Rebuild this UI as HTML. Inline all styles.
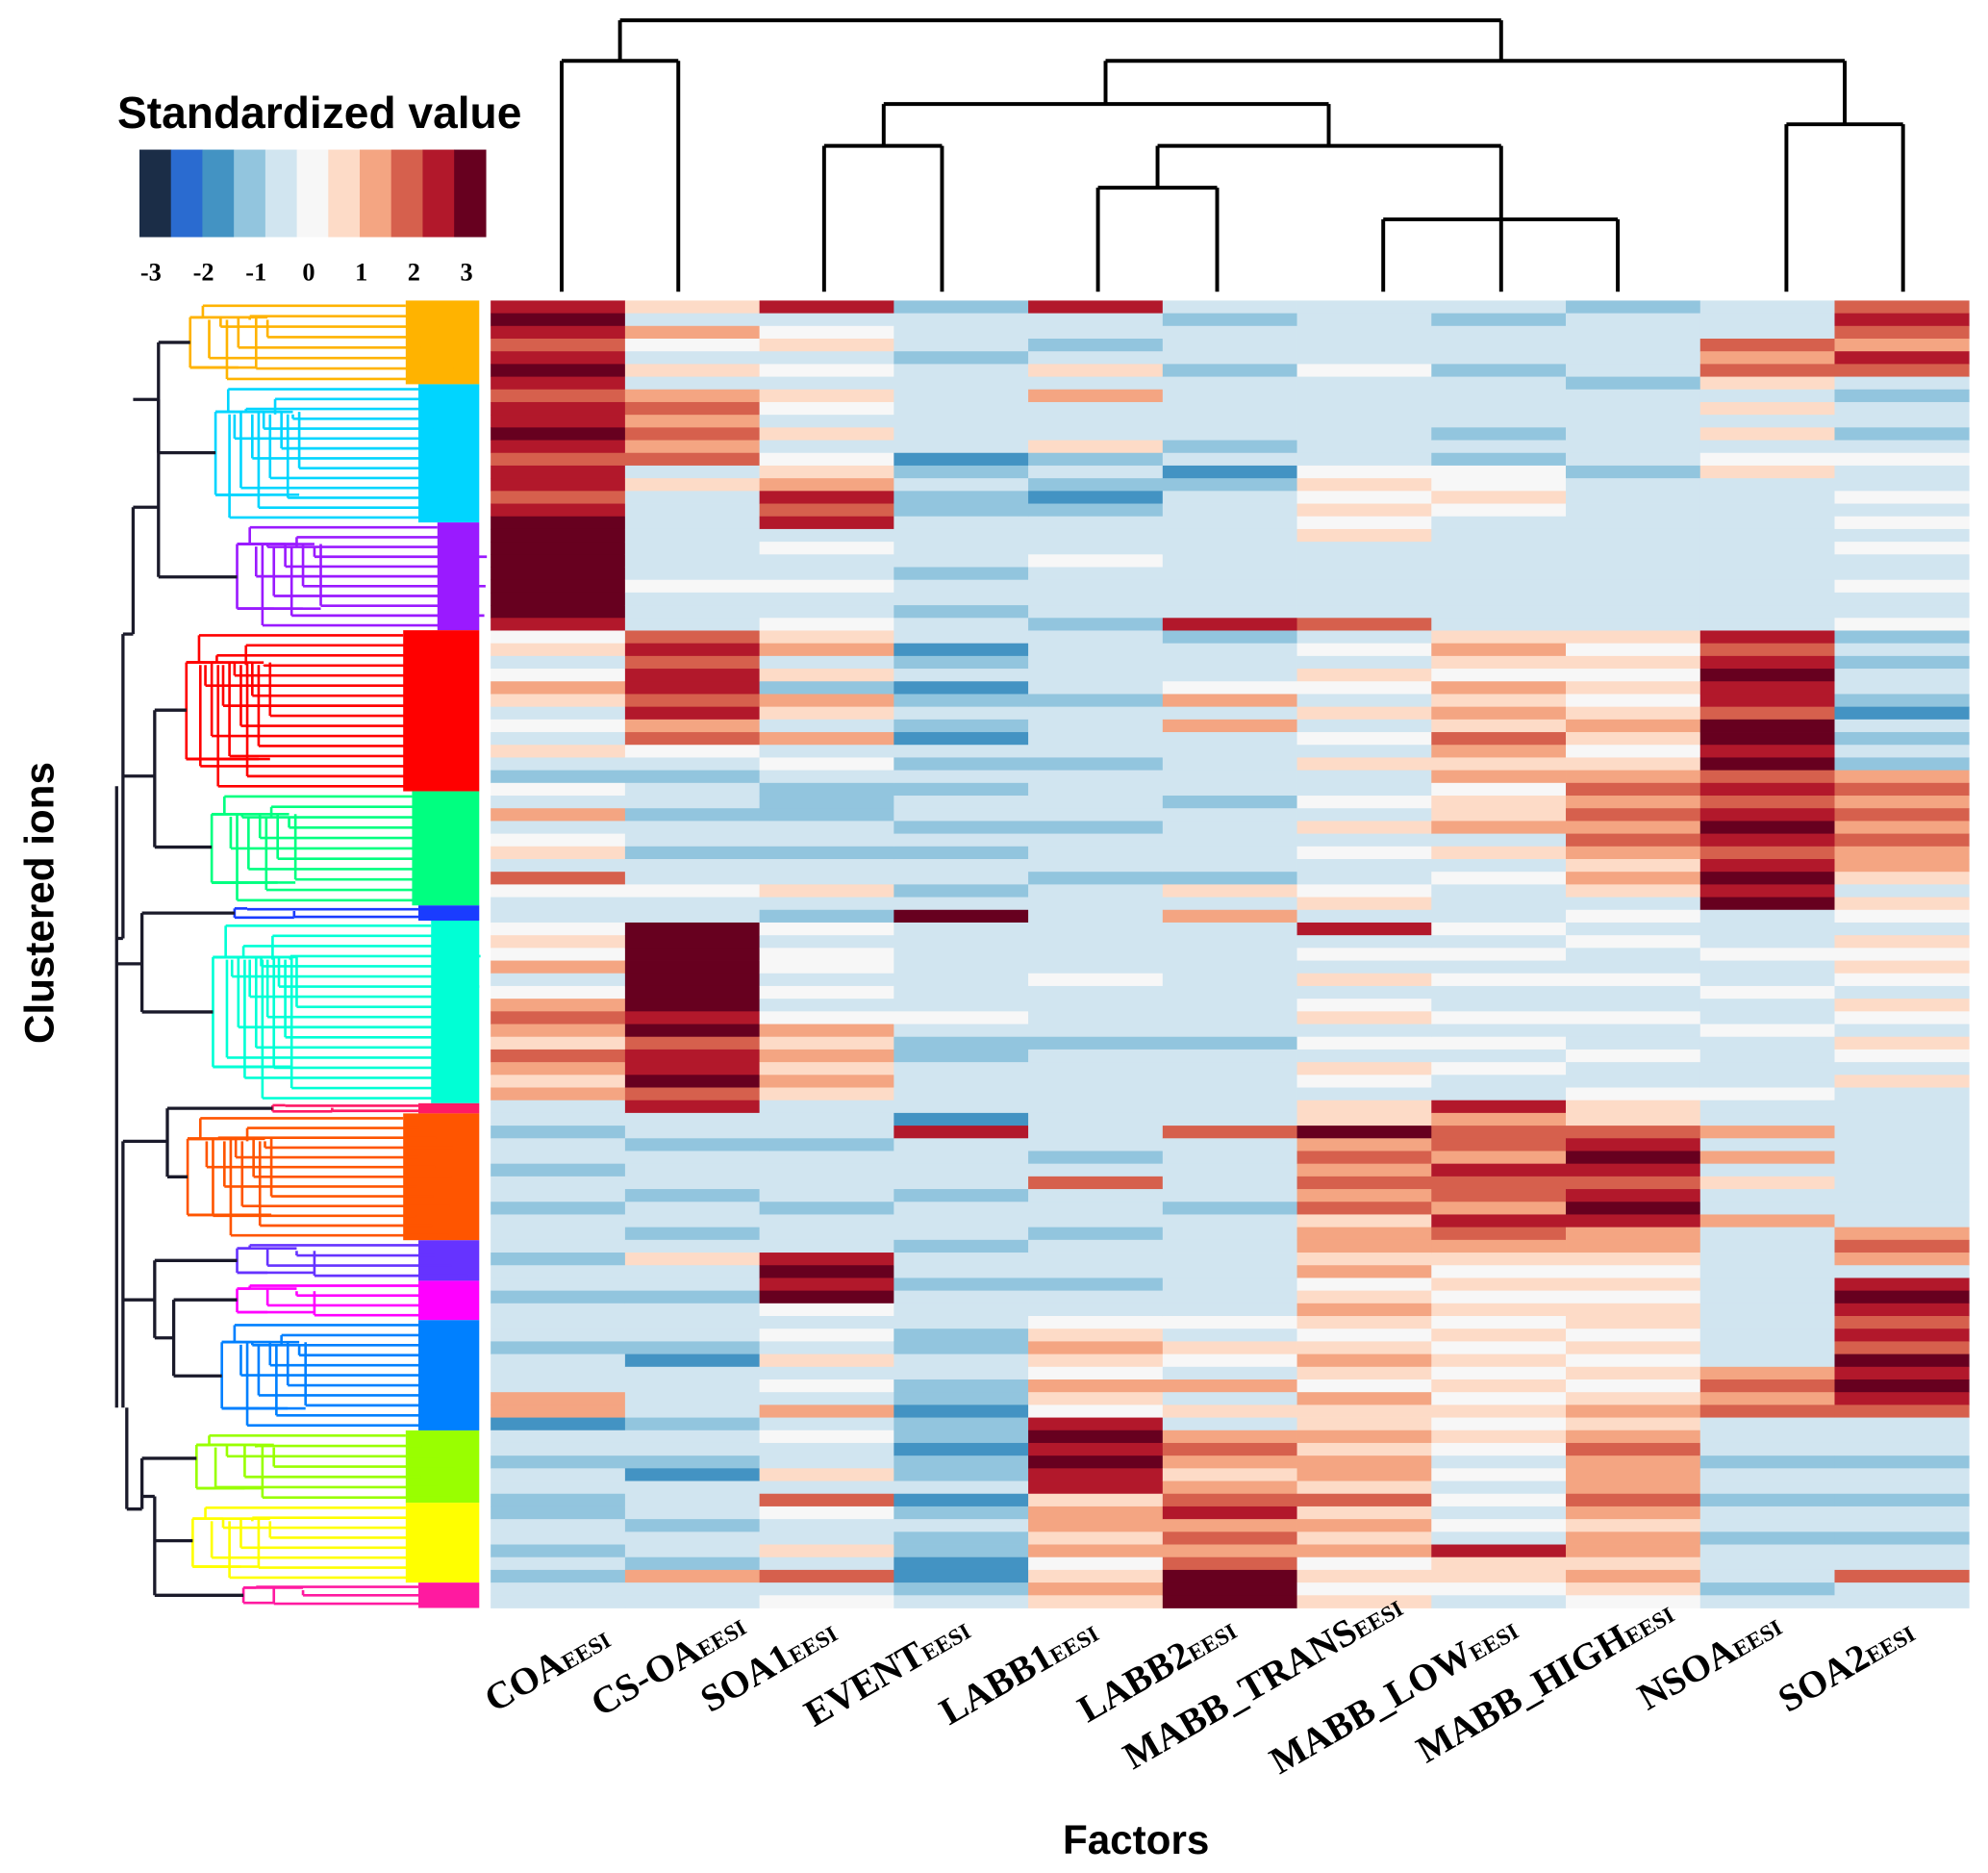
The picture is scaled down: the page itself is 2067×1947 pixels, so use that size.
<!DOCTYPE html>
<html><head><meta charset="utf-8"><style>
html,body{margin:0;padding:0;background:#fff;}
svg{display:block;}
text{font-family:"Liberation Sans",sans-serif;}
.lab{font-family:"Liberation Serif",serif;font-weight:bold;}
</style></head><body>
<svg id="chart" xmlns="http://www.w3.org/2000/svg" width="2067" height="1947" viewBox="0 0 1568 1477" preserveAspectRatio="none">
<g id="legend"></g>
<g id="coldend" stroke="#000" stroke-width="3" fill="none"></g>
<g id="rowdend"></g>
<g id="cells"></g>
<g id="xlabels"></g>
<text x="896" y="1462" text-anchor="middle" font-size="32" font-weight="bold">Factors</text>
<text transform="translate(42,712) rotate(-90)" text-anchor="middle" font-size="32" font-weight="bold">Clustered ions</text>
</svg>
<script>
const factors=["COA","CS-OA","SOA1","EVENT","LABB1","LABB2","MABB_TRANS","MABB_LOW","MABB_HIGH","NSOA","SOA2"];
const legendTicks=[-3,-2,-1,0,1,2,3];
const palette=["#1b2d47","#2a6bd0","#4393c3","#92c5de","#d1e5f0","#f7f7f7","#fddbc7","#f4a582","#d6604d","#b2182b","#67001f"];
const colCOA=[4,5,4,3,4,5,4,3,4,4,5,4,3,4,4,3,4,5,5,5,5,5,5,5,5,4,0,1,-1,0,2,1,-1,0,-1,1,-1,-2,0,-1,2,-1,0,1,-1,3,0,-1,-1,0,1,0,2,-1,0,2,3,2,1,3,2,1,2,-1,-1,-2,-1,-1,-2,-1,-1,-2,-1,-1,-1,-2,-1,-1,-2,-1,-1,-1,-2,-1,-1,-1,2,2,-3,-1,-1,-2,-1,-1,-2,-2,-1,-1,-2,-1,-2,-1,-1];
const colCSOA=[1,-1,2,0,-1,1,-1,2,3,2,3,2,3,-1,1,-1,-1,-1,-1,-1,-1,-1,0,-1,-1,-1,3,4,3,4,4,3,4,2,3,0,-1,-2,-1,-1,-2,-1,-1,-2,-1,-1,0,-1,-1,5,5,5,5,5,5,5,4,5,3,4,4,5,3,4,-1,-1,-2,-1,-1,-1,-2,-1,-1,-2,-1,1,-1,-1,-2,-1,-1,-1,-2,-3,-1,-1,-1,-1,-2,-1,-1,-2,-3,-1,-1,-1,-2,-1,-1,-2,2,-1,-1];
const colSOA1=[4,-1,0,1,-1,0,-1,1,0,-1,1,-1,0,1,2,4,3,4,-1,0,-1,-1,0,-1,-1,0,1,2,-1,1,-2,2,1,-1,2,-1,0,-1,-2,-2,-2,-1,-1,-2,-1,-1,1,-1,-2,0,-1,0,0,-1,0,-1,0,2,1,2,1,2,1,-1,-1,-1,-2,-1,-1,-1,-1,-2,-1,-1,-1,4,5,4,5,0,-1,0,-1,1,-1,0,-1,2,-1,0,-1,-1,1,-1,3,0,-1,-1,1,-1,3,-1,0];
const colEVENT=[-2,-1,-1,-1,-2,-1,-1,-1,-1,-1,-1,-1,-3,-2,-1,-2,-2,-1,-1,-1,-1,-2,-1,-1,-2,-1,-1,-3,-2,-1,-3,-2,-1,-2,-3,-1,-2,-1,-2,-1,-1,-2,-1,-2,-1,-1,-2,-1,5,-1,-1,-1,-1,-1,-1,-1,0,-1,-2,-2,-1,-1,-1,-1,-3,4,-1,-1,-1,-1,-2,-1,-1,-1,-2,-1,-1,-2,-1,-1,-1,-2,-2,-1,-1,-2,-2,-3,-2,-2,-3,-2,-2,-1,-3,-2,-1,-2,-2,-3,-3,-2,-1];
const colLABB1=[4,-1,-1,-2,-1,1,-1,2,-1,-1,-1,1,-2,-1,-2,-3,-2,-1,-1,-1,0,-1,-1,-1,-1,-2,-1,-1,-1,-1,-1,-2,-1,-1,-1,-1,-2,-1,-1,-1,-1,-2,-1,-1,-1,-2,-1,-1,-1,-1,-1,-1,-1,0,-1,-1,-1,-1,-2,-1,-1,-1,-1,-1,-1,-1,-1,-2,-1,3,-1,-1,-1,-2,-1,-1,-1,-2,-1,-1,0,1,2,1,0,2,1,0,4,5,4,5,4,4,1,2,2,1,2,0,1,2,1];
const colLABB2=[-1,-2,-1,-1,-1,-2,-1,-1,-1,-1,-1,-2,-1,-3,-2,-1,-1,-1,-1,-1,-1,-1,-1,-1,-1,4,-2,-1,-1,-1,0,2,-1,2,-1,-1,-1,-1,-1,-2,-1,-1,-1,-1,-1,-2,1,-1,2,-1,-1,-1,-1,-1,-1,-1,-1,-1,-2,-1,-1,-1,-1,-1,-1,3,-1,-1,-1,-1,-1,-2,-1,-1,-1,-1,-1,-1,-1,-1,0,-1,1,0,-1,2,-1,1,-1,2,3,2,1,2,3,4,2,3,2,3,5,5,5];
const colTRANS=[-1,-1,-1,-1,-1,0,-1,-1,-1,-1,-1,-1,-1,0,1,0,1,0,1,-1,-1,-1,-1,-1,-1,3,-1,0,-1,1,0,-1,1,-1,0,-1,1,-1,-1,0,-1,1,-1,0,-1,-1,0,1,-1,4,-1,0,-1,1,-1,0,1,-1,0,-1,1,0,-1,1,1,5,2,3,2,3,2,3,1,2,2,1,2,0,1,2,1,0,1,2,1,0,2,1,1,2,1,2,2,1,3,1,2,1,2,0,1,0,1];
const colLOW=[-1,-2,-1,-1,-1,-2,-1,-1,-1,-1,-2,-1,-2,0,0,1,0,-1,-1,-1,-1,-1,-1,-1,-1,-1,1,2,1,0,2,1,2,1,3,2,1,2,0,1,1,2,-1,1,-1,0,-1,-1,-1,0,-1,0,-1,0,-1,-1,0,-1,0,-1,0,-1,-1,4,2,3,3,2,4,3,3,2,4,3,2,1,0,1,0,1,0,1,0,1,0,1,0,1,0,1,0,-1,0,-1,0,-1,0,-1,4,1,1,0,-1];
const colHIGH=[-2,-1,-1,-1,-1,-1,-2,-1,-1,-1,-1,-1,-1,-2,-1,-1,-1,-1,-1,-1,-1,-1,-1,-1,-1,-1,1,0,1,0,1,0,1,2,1,0,1,2,3,2,3,2,3,2,1,2,1,-1,0,-1,0,-1,-1,0,-1,-1,0,-1,-1,0,-1,-1,0,1,1,3,4,5,4,3,4,5,4,2,2,1,0,1,0,1,1,0,1,0,1,0,1,2,1,2,3,2,2,2,3,2,1,2,2,1,2,1,0];
const colNSOA=[-1,-1,-1,3,2,3,1,-1,1,-1,1,-1,0,1,-1,-1,-1,-1,-1,-1,-1,-1,-1,-1,-1,-1,4,3,4,5,4,4,3,5,5,4,5,3,4,3,4,5,4,3,4,5,4,5,-1,-1,-1,0,-1,-1,0,-1,-1,0,-1,-1,-1,-1,0,-1,-1,2,-1,2,-1,1,-1,-1,2,-1,-1,-1,-1,-1,-1,-1,-1,-1,-1,-1,2,3,2,3,-1,-1,-1,-2,-1,-1,-2,-1,-1,-2,-1,-1,-1,-2,-1];
const colSOA2=[3,4,3,2,4,3,-1,-2,-1,-1,-2,-1,0,-1,-1,0,-1,0,-1,0,-1,-1,0,-1,-1,0,-2,-1,-2,-1,-1,-2,-3,-1,-2,-1,-2,2,3,2,3,2,3,2,2,1,-1,1,0,-1,1,0,1,0,-1,1,0,-1,1,0,-1,1,-1,-1,-1,-1,-1,-1,-1,-1,-1,-1,-1,2,3,2,-1,4,5,4,3,4,3,5,4,5,4,3,-1,-1,-1,-2,-1,-1,-2,-1,-1,-2,-1,-1,3,-1,-1];
const columns=[colCOA,colCSOA,colSOA1,colEVENT,colLABB1,colLABB2,colTRANS,colLOW,colHIGH,colNSOA,colSOA2];

const NS="http://www.w3.org/2000/svg";
function mk(tag,attrs,parent){const e=document.createElementNS(NS,tag);for(const k in attrs)e.setAttribute(k,attrs[k]);parent.appendChild(e);return e;}
const X0=387,X1=1553,Y0=237,Y1=1268;
const cw=(X1-X0)/factors.length;
const nRows=colCOA.length;
const rh=(Y1-Y0)/nRows;
function xScale(i){return X0+i*cw;}
function yScale(r){return Y0+r*rh;}
function colorOf(v){return palette[Math.max(0,Math.min(10,Math.round(v)+5))];}

// legend
const lg=document.getElementById('legend');
const t=mk('text',{x:252,y:101,'text-anchor':'middle','font-size':35,'font-weight':'bold'},lg);
t.textContent='Standardized value';


const sw=(383-110)/palette.length;
palette.forEach((c,i)=>{const r=mk('rect',{x:110+i*sw,y:118,width:sw+0.5,height:69,fill:c},lg);

});
legendTicks.forEach(v=>{const tx=mk('text',{x:119+(v+3)*41.5,y:221,'text-anchor':'middle','font-size':20,class:'lab'},lg);tx.textContent=String(v);

});

// heatmap
const cells=document.getElementById('cells');
columns.forEach((col,ci)=>{col.forEach((v,r)=>{const rc=mk('rect',{x:xScale(ci),y:yScale(r),width:cw+0.3,height:rh+0.3,fill:colorOf(v)},cells);

});});

// column dendrogram
const cd=document.getElementById('coldend');
const lines=[[443,230,443,48],[535,230,535,48],[443,48,535,48],[489,48,489,16],
[650,230,650,115],[743,230,743,115],[650,115,743,115],[697,115,697,82],
[866,230,866,148],[960,230,960,148],[866,148,960,148],[913,148,913,115],
[1091,230,1091,173],[1276,230,1276,173],[1091,173,1276,173],[1184,230,1184,115],[913,115,1184,115],[1048,115,1048,82],
[697,82,1048,82],[872,82,872,48],
[1409,230,1409,98],[1501,230,1501,98],[1409,98,1501,98],[1455,98,1455,48],
[872,48,1455,48],[1184,48,1184,16],[489,16,1184,16]];
lines.forEach(l=>{const p=mk('line',{x1:l[0],y1:l[1],x2:l[2],y2:l[3]},cd);

});

// row dendrogram
const rd=document.getElementById('rowdend');
const clusters=[[237,303,'#ffb300',150,320],[303,412,'#00d5ff',170,330],[412,497,'#9a1aff',187,345],[497,624,'#ff0000',147,318],[624,714,'#00ff80',167,325],[714,726,'#1a3cff',185,330],[726,870,'#00ffd5',168,340],[870,878,'#ff1a66',215,330],[878,978,'#ff5500',148,318],[978,1010,'#6633ff',187,330],[1010,1041,'#ff00ff',187,330],[1041,1128,'#0080ff',175,330],[1128,1185,'#99ff00',155,320],[1185,1248,'#ffff00',152,320],[1248,1268,'#ff1aa0',192,330]];
clusters.forEach(c=>{const [ya,yb,col,xr,xf]=c;
const g=mk('g',{stroke:col,'stroke-width':2,fill:'none'},rd);


mk('rect',{x:xf,y:ya,width:378-xf,height:yb-ya,fill:col,stroke:'none'},g);
const h=yb-ya;const n=Math.max(2,Math.round(h/8));
mk('line',{x1:xr,y1:ya+h*0.2,x2:xr,y2:yb-h*0.2},g);
for(let k=0;k<n;k++){const yy=ya+(k+0.5)*h/n;const xs=xr+((k*37)%60)+10;
mk('line',{x1:xr,y1:(k<n/2?ya+h*0.2:yb-h*0.2),x2:xs,y2:(k<n/2?ya+h*0.2:yb-h*0.2)},g);
mk('line',{x1:xs,y1:yy,x2:xf+((k*53)%40),y2:yy},g);
mk('line',{x1:xs,y1:ya+h*0.2+(k%2)*2,x2:xs,y2:yy},g);}
});
const bg=mk('g',{stroke:'#1a1a2a','stroke-width':2.5,fill:'none'},rd);


const bl=[[150,270,125,270],[170,357,125,357],[125,270,125,357],[125,315,105,315],[187,455,125,455],[125,315,125,455],[125,400,105,400],[147,560,122,560],[167,668,122,668],[122,560,122,668],[122,612,97,612],[105,400,105,500],[105,500,97,500],[97,500,97,740],[185,720,112,720],[168,798,112,798],[112,720,112,798],[112,760,92,760],[97,740,92,740],[215,874,132,874],[148,928,132,928],[132,874,132,928],[132,900,97,900],[187,994,122,994],[187,1025,137,1025],[175,1085,137,1085],[137,1025,137,1085],[137,1055,122,1055],[122,994,122,1055],[122,1025,97,1025],[97,900,97,1110],[155,1150,112,1150],[152,1215,122,1215],[192,1258,122,1258],[122,1180,122,1258],[122,1180,112,1180],[112,1150,112,1190],[112,1190,100,1190],[100,1110,100,1190],[92,620,92,1110]];
bl.forEach(l=>mk('line',{x1:l[0],y1:l[1],x2:l[2],y2:l[3]},bg));

// x labels
const xl=document.getElementById('xlabels');
const labEnds=[[483,1297],[590,1287],[662,1292],[767,1290],[868,1292],[977,1290],[1108,1272],[1199,1290],[1322,1277],[1407,1287],[1512,1292]];
factors.forEach((f,i)=>{const [ex,ey]=labEnds[i];
const tx=mk('text',{transform:`translate(${ex},${ey}) rotate(-30)`,'text-anchor':'end','font-size':30,class:'lab'},xl);
const a=mk('tspan',{},tx);a.textContent=f;
const b=mk('tspan',{'font-size':18},tx);b.textContent='EESI';

});
</script>
</body></html>
